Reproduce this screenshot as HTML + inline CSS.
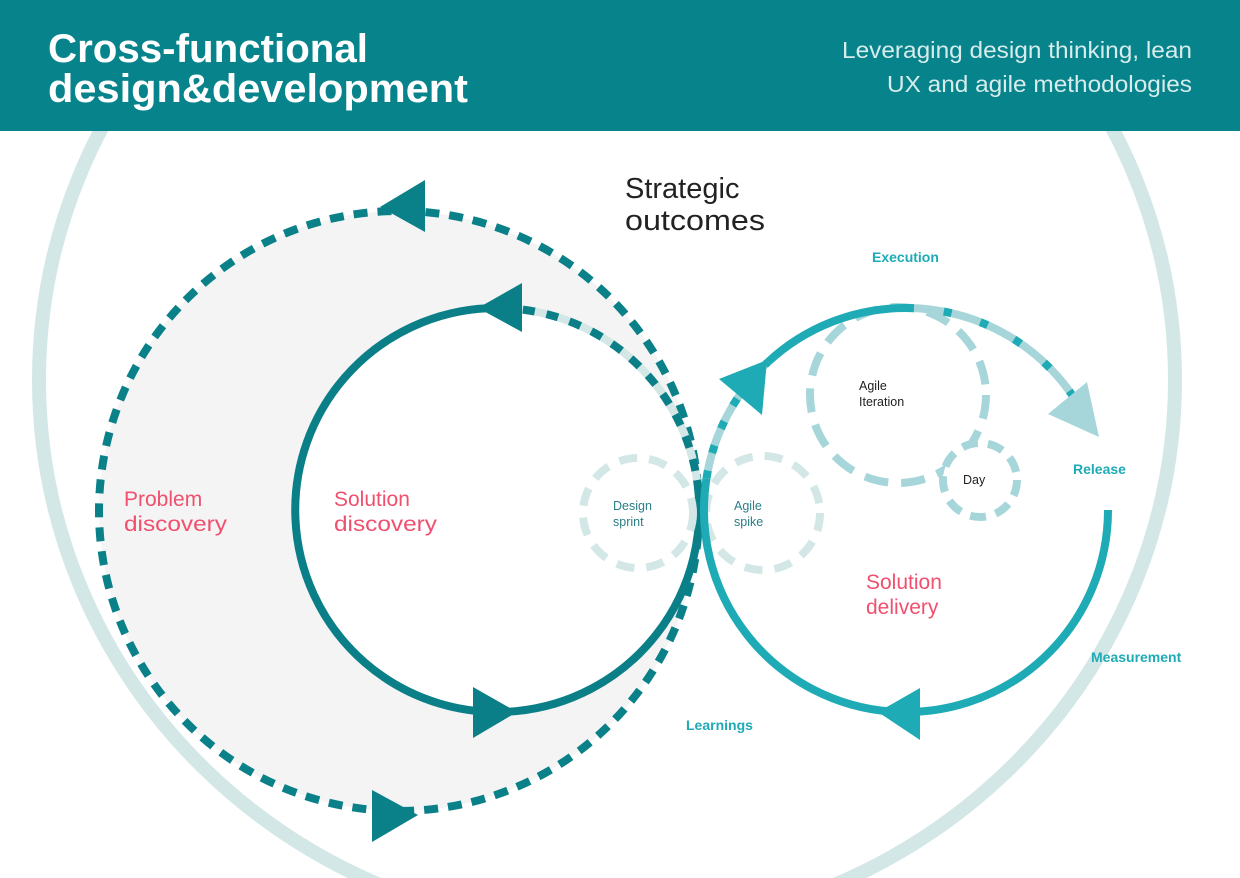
<!DOCTYPE html>
<html><head><meta charset="utf-8"><style>
html,body{margin:0;padding:0;background:#fff;}
body{width:1240px;height:878px;overflow:hidden;position:relative;font-family:"Liberation Sans",sans-serif;}
svg{position:absolute;left:0;top:0;display:block;}
</style></head><body>
<svg width="1240" height="878" viewBox="0 0 1240 878" xmlns="http://www.w3.org/2000/svg">
<ellipse cx="607" cy="380" rx="568" ry="551" fill="none" stroke="#d4e7e7" stroke-width="14"/>
<rect x="0" y="0" width="1240" height="131" fill="#07838b"/>
<text x="48" y="62" font-family="Liberation Sans" font-weight="bold" font-size="40" fill="#fff" textLength="320" lengthAdjust="spacingAndGlyphs">Cross-functional</text>
<text x="48" y="102" font-family="Liberation Sans" font-weight="bold" font-size="40" fill="#fff" textLength="420" lengthAdjust="spacingAndGlyphs">design&amp;development</text>
<text x="1192" y="58" text-anchor="end" font-family="Liberation Sans" font-size="23" fill="#d7ecec" textLength="350" lengthAdjust="spacingAndGlyphs">Leveraging design thinking, lean</text>
<text x="1192" y="92" text-anchor="end" font-family="Liberation Sans" font-size="23" fill="#d7ecec" textLength="305" lengthAdjust="spacingAndGlyphs">UX and agile methodologies</text>

<circle cx="399" cy="511" r="300" fill="#f4f4f4" stroke="#0a8089" stroke-width="8" stroke-dasharray="14 10"/>
<polygon points="380,207 425,180 425,232" fill="#0a8089"/>
<polygon points="418,815 372,790 372,842" fill="#0a8089"/>

<circle cx="499" cy="510" r="202" fill="#fff"/>
<path d="M697,480 A202,202 0 1 1 499,308" fill="none" stroke="#0a7f87" stroke-width="8"/>
<path d="M499,308 A202,202 0 0 1 697,480" fill="none" stroke="#d4e7e7" stroke-width="8"/>
<path d="M499,308 A202,202 0 0 1 697,480" fill="none" stroke="#0a7f87" stroke-width="8" stroke-dasharray="12 12"/>
<polygon points="478,308 522,283 522,332" fill="#0a7f87"/>
<polygon points="517,712 473,687 473,738" fill="#0a7f87"/>

<circle cx="638" cy="513" r="55" fill="none" stroke="#d3e7e7" stroke-width="8" stroke-dasharray="18 12"/>
<circle cx="763" cy="513" r="57" fill="none" stroke="#d3e7e7" stroke-width="8" stroke-dasharray="18 12"/>
<circle cx="898" cy="395" r="88" fill="none" stroke="#a6d6da" stroke-width="8" stroke-dasharray="24 13"/>
<circle cx="980" cy="480" r="37" fill="#fff" stroke="#a6d6da" stroke-width="8" stroke-dasharray="16 10"/>

<path d="M1108,510 A202,202 0 1 1 706.5,478.4" fill="none" stroke="#1eabb5" stroke-width="8"/>
<path d="M706.5,478.4 A202,202 0 0 1 768,362" fill="none" stroke="#a6d6da" stroke-width="8"/>
<path d="M706.5,478.4 A202,202 0 0 1 768,362" fill="none" stroke="#1eabb5" stroke-width="8" stroke-dasharray="8 18"/>
<path d="M768,362 A202,202 0 0 1 906,308" fill="none" stroke="#1eabb5" stroke-width="8"/>
<path d="M906,308 A202,202 0 0 1 1081,409" fill="none" stroke="#a6d6da" stroke-width="8"/>
<path d="M906,308 A202,202 0 0 1 1081,409" fill="none" stroke="#1eabb5" stroke-width="8" stroke-dasharray="8 30"/>
<polygon points="767,360 719,379 762,415" fill="#1eabb5"/>
<polygon points="1099,437 1048,414 1087,382" fill="#a6d6da"/>
<polygon points="878,712 920,688 920,740" fill="#1eabb5"/>

<g font-family="Liberation Sans">
<text x="625" y="198" font-size="29" fill="#222">Strategic</text>
<text x="625" y="230" font-size="29" fill="#222" textLength="140" lengthAdjust="spacingAndGlyphs">outcomes</text>
<text x="124" y="506" font-size="21" fill="#f0506e">Problem</text>
<text x="124" y="531" font-size="21" fill="#f0506e" textLength="103" lengthAdjust="spacingAndGlyphs">discovery</text>
<text x="334" y="506" font-size="21" fill="#f0506e">Solution</text>
<text x="334" y="531" font-size="21" fill="#f0506e" textLength="103" lengthAdjust="spacingAndGlyphs">discovery</text>
<text x="866" y="589" font-size="21" fill="#f0506e">Solution</text>
<text x="866" y="614" font-size="21" fill="#f0506e">delivery</text>
<g font-size="14" font-weight="bold" fill="#1eabb5">
<text x="872" y="262">Execution</text>
<text x="1073" y="474">Release</text>
<text x="1091" y="662">Measurement</text>
<text x="686" y="730">Learnings</text>
</g>
<g font-size="12.5" fill="#2a7f86">
<text x="613" y="510">Design</text>
<text x="613" y="526">sprint</text>
<text x="734" y="510">Agile</text>
<text x="734" y="526">spike</text>
</g>
<g font-size="12.5" fill="#222">
<text x="859" y="390">Agile</text>
<text x="859" y="406">Iteration</text>
<text x="963" y="484">Day</text>
</g>
</g>
</svg>
</body></html>
